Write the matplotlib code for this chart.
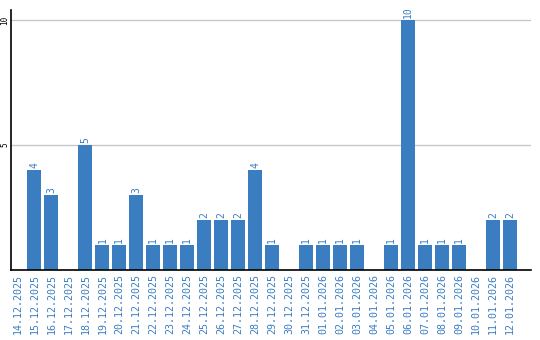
import matplotlib
matplotlib.use("Agg")
import matplotlib.pyplot as plt

dates = ["14.12.2025", "15.12.2025", "16.12.2025", "17.12.2025", "18.12.2025",
         "19.12.2025", "20.12.2025", "21.12.2025", "22.12.2025", "23.12.2025",
         "24.12.2025", "25.12.2025", "26.12.2025", "27.12.2025", "28.12.2025",
         "29.12.2025", "30.12.2025", "31.12.2025", "01.01.2026", "02.01.2026",
         "03.01.2026", "04.01.2026", "05.01.2026", "06.01.2026", "07.01.2026",
         "08.01.2026", "09.01.2026", "10.01.2026", "11.01.2026", "12.01.2026"]
values = [0, 4, 3, 0, 5, 1, 1, 3, 1, 1, 1, 2, 2, 2, 4, 1, 0, 1, 1, 1, 1, 0, 1, 10, 1, 1, 1, 0, 2, 2]
yticks = [5, 10]

blue = "#3b7dc1"
fig = plt.figure(figsize=(5.4, 3.4), dpi=100)
ax = fig.add_axes([11/540, 70/340, 520/540, 260/340])
x = list(range(len(dates)))
ax.bar(x, values, width=0.82, color=blue, zorder=2)
ax.set_xlim(-0.38, 30.24)
ax.set_ylim(0, 10.4)
ax.set_yticks(yticks)
ax.set_yticklabels([str(t) for t in yticks], rotation=90, va="center",
                   fontsize=5.5, family="DejaVu Sans Mono", color="black")
ax.grid(axis="y", color="#c8c8c8", linewidth=1, zorder=0)
ax.set_xticks(x)
ax.set_xticklabels(dates, rotation=90, fontsize=7.2, family="DejaVu Sans Mono", color=blue)
ax.tick_params(axis="x", length=0, pad=3)
ax.tick_params(axis="y", length=0, pad=1)
for s in ["top", "right"]:
    ax.spines[s].set_visible(False)
for s in ["left", "bottom"]:
    ax.spines[s].set_color("black")
    ax.spines[s].set_linewidth(1.2)
for xi, v in zip(x, values):
    if v > 0:
        ax.annotate(str(v), (xi, v), xytext=(0, 1.5), textcoords="offset points",
                    rotation=90, ha="center", va="bottom", fontsize=7,
                    family="DejaVu Sans Mono", color=blue)
fig.savefig("out.png", dpi=100)
